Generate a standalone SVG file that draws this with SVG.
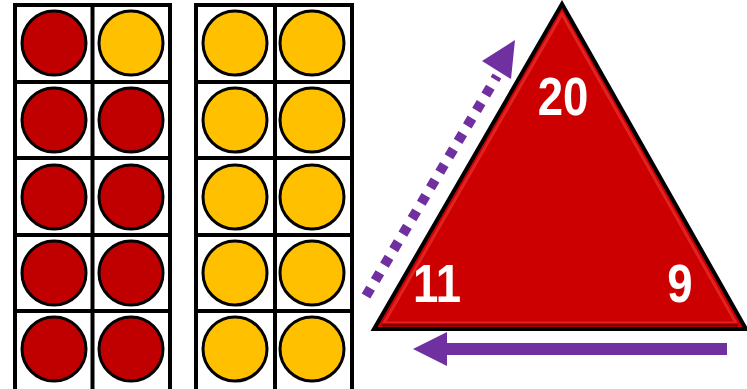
<svg xmlns="http://www.w3.org/2000/svg" width="747" height="389" viewBox="0 0 747 389">
<style>
.grid{fill:#fff;stroke:#000;stroke-width:4}
.red{fill:#C00000;stroke:#000;stroke-width:3}
.yel{fill:#FFC000;stroke:#000;stroke-width:3}
.num{font-family:"Liberation Sans",Arial,sans-serif;font-weight:bold;font-size:53px;fill:#fff}
</style>
<rect width="747" height="389" fill="#fff"/>
<g id="frame-left">
<rect class="grid" x="15" y="5" width="155" height="386"/>
<line x1="92.5" y1="5" x2="92.5" y2="389" stroke="#000" stroke-width="4"/>
<line x1="15" y1="82" x2="170" y2="82" stroke="#000" stroke-width="4"/>
<line x1="15" y1="158" x2="170" y2="158" stroke="#000" stroke-width="4"/>
<line x1="15" y1="235" x2="170" y2="235" stroke="#000" stroke-width="4"/>
<line x1="15" y1="311" x2="170" y2="311" stroke="#000" stroke-width="4"/>
<circle class="red" cx="54" cy="43" r="32"/><circle class="yel" cx="131" cy="43" r="32"/>
<circle class="red" cx="54" cy="120" r="32"/><circle class="red" cx="131" cy="120" r="32"/>
<circle class="red" cx="54" cy="197" r="32"/><circle class="red" cx="131" cy="197" r="32"/>
<circle class="red" cx="54" cy="273" r="32"/><circle class="red" cx="131" cy="273" r="32"/>
<circle class="red" cx="54" cy="349" r="32"/><circle class="red" cx="131" cy="349" r="32"/>
</g>
<g id="frame-right">
<rect class="grid" x="196" y="5" width="156" height="386"/>
<line x1="275" y1="5" x2="275" y2="389" stroke="#000" stroke-width="4"/>
<line x1="196" y1="82" x2="352" y2="82" stroke="#000" stroke-width="4"/>
<line x1="196" y1="158" x2="352" y2="158" stroke="#000" stroke-width="4"/>
<line x1="196" y1="235" x2="352" y2="235" stroke="#000" stroke-width="4"/>
<line x1="196" y1="311" x2="352" y2="311" stroke="#000" stroke-width="4"/>
<circle class="yel" cx="235" cy="43" r="32"/><circle class="yel" cx="312" cy="43" r="32"/>
<circle class="yel" cx="235" cy="120" r="32"/><circle class="yel" cx="312" cy="120" r="32"/>
<circle class="yel" cx="235" cy="197" r="32"/><circle class="yel" cx="312" cy="197" r="32"/>
<circle class="yel" cx="235" cy="273" r="32"/><circle class="yel" cx="312" cy="273" r="32"/>
<circle class="yel" cx="235" cy="349" r="32"/><circle class="yel" cx="312" cy="349" r="32"/>
</g>
<g id="triangle">
<polygon points="562,4 374,329 746,329" fill="#CC0000" stroke="#000" stroke-width="4" stroke-linejoin="miter"/>
<polygon points="562,14 384,323 736,323" fill="none" stroke="#E83030" stroke-width="3" opacity="0.7"/>
<line x1="382" y1="325" x2="738" y2="325" stroke="#8A0000" stroke-width="3"/>
<text class="num" transform="translate(563,115) scale(0.86,1)" text-anchor="middle">20</text>
<text class="num" transform="translate(437,302) scale(0.86,1)" text-anchor="middle">11</text>
<text class="num" transform="translate(680,302) scale(0.86,1)" text-anchor="middle">9</text>
</g>
<g id="connectors">
<line x1="366" y1="296" x2="497" y2="76" stroke="#7030A0" stroke-width="10" stroke-dasharray="9 9"/>
<polygon points="482,61 515,40 511,79" fill="#7030A0"/>
<line x1="727" y1="349" x2="440" y2="349" stroke="#7030A0" stroke-width="12"/>
<polygon points="413,349 447,332 447,366" fill="#7030A0"/>
</g>
</svg>
